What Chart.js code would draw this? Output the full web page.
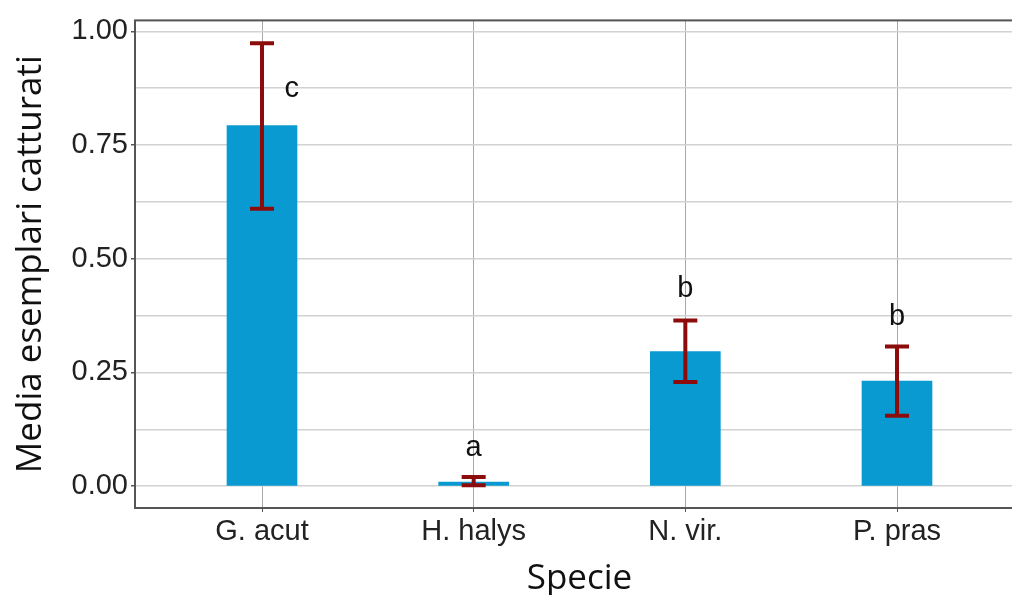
<!DOCTYPE html>
<html>
<head>
<meta charset="utf-8">
<title>Media esemplari catturati</title>
<script src="https://cdn.jsdelivr.net/npm/chart.js@4/dist/chart.umd.min.js"></script>
<style>
  html, body { margin: 0; padding: 0; background: #fff; overflow: hidden; }
  #wrap { width: 1028px; height: 595px; }
</style>
</head>
<body>
<div id="wrap"><canvas id="myBarChart"></canvas></div>
<script>
// data
const species = ["G. acut", "H. halys", "N. vir.", "P. pras"];
const means = [0.793, 0.009, 0.296, 0.231];
const errLow = [0.610, 0.002, 0.229, 0.155];
const errHigh = [0.974, 0.020, 0.364, 0.307];
const letters = ["c", "a", "b", "b"];
const letterY = [0.874, 0.083, 0.434, 0.373];
const yTicks = [0, 0.25, 0.5, 0.75, 1];

// minor grid lines sit halfway between the labelled ones
const yGrid = [];
for (let i = 0; i < yTicks.length; i++) {
  yGrid.push(yTicks[i]);
  if (i < yTicks.length - 1) yGrid.push((yTicks[i] + yTicks[i + 1]) / 2);
}

const tickFont = { family: "'Liberation Sans', Arial, sans-serif", size: 29 };
const titleFont = { family: "'Open Sans', sans-serif", size: 35 };

// dark red error bars plus the significance letters
const errorBars = {
  id: "errorBars",
  afterDatasetsDraw(chart) {
    const { ctx, scales: { x, y } } = chart;
    ctx.save();
    ctx.strokeStyle = "#8c0c0c";
    ctx.lineWidth = 4;
    species.forEach((s, i) => {
      const cx = x.getPixelForValue(i);
      const top = y.getPixelForValue(errHigh[i]);
      const bot = y.getPixelForValue(errLow[i]);
      ctx.beginPath();
      ctx.moveTo(cx, top); ctx.lineTo(cx, bot);
      ctx.moveTo(cx - 12, top); ctx.lineTo(cx + 12, top);
      ctx.moveTo(cx - 12, bot); ctx.lineTo(cx + 12, bot);
      ctx.stroke();
    });
    ctx.fillStyle = "#111";
    ctx.font = "29px 'Liberation Sans', Arial, sans-serif";
    ctx.textAlign = "center";
    ctx.textBaseline = "middle";
    letters.forEach((l, i) => {
      // the "c" sits beside its tall error bar, not above it
      const dx = i === 0 ? 0.14 : 0;
      ctx.fillText(l, x.getPixelForValue(i + dx), y.getPixelForValue(letterY[i]));
    });
    ctx.restore();
  }
};

// panel outline
const panelBorder = {
  id: "panelBorder",
  afterDraw(chart) {
    const { ctx, chartArea: a } = chart;
    ctx.save();
    ctx.strokeStyle = "#555";
    ctx.lineWidth = 2;
    ctx.strokeRect(a.left, a.top, a.right - a.left, a.bottom - a.top);
    ctx.restore();
  }
};

const bar = document.getElementById("myBarChart");
new Chart(bar, {
  type: "bar",
  data: {
    datasets: [{
      data: means.map((m, i) => ({ x: i, y: m })),
      backgroundColor: "#0a9ad2",
      borderWidth: 0,
      barThickness: 70
    }]
  },
  options: {
    responsive: true,
    maintainAspectRatio: false,
    animation: false,
    layout: { padding: { top: 16, right: 4, left: 0, bottom: 0 } },
    plugins: { legend: { display: false }, tooltip: { enabled: false } },
    scales: {
      x: {
        type: "linear",
        offset: false,
        min: -0.6,
        max: 3.6,
        afterBuildTicks: (s) => { s.ticks = species.map((_, i) => ({ value: i })); },
        afterFit: (s) => { s.height = 87; },
        ticks: {
          callback: (v) => species[v],
          autoSkip: false,
          maxRotation: 0,
          padding: 3,
          color: "#222",
          font: tickFont
        },
        grid: { offset: false, color: "#a8a8a8", lineWidth: 1, tickLength: 4, tickColor: "#555" },
        border: { display: false },
        title: { display: true, text: "Specie", color: "#111", font: titleFont, padding: { top: 0, bottom: -5 } }
      },
      y: {
        min: -0.048,
        max: 1.024,
        afterBuildTicks: (s) => { s.ticks = yGrid.map((v) => ({ value: v })); },
        afterFit: (s) => { s.width = 135; },
        ticks: {
          callback: (v) => (yTicks.includes(v) ? v.toFixed(2) : ""),
          autoSkip: false,
          padding: 3,
          color: "#222",
          font: tickFont
        },
        grid: {
          color: "#d2d2d2",
          lineWidth: 1.5,
          tickLength: 4,
          tickColor: (c) => (c.tick && yTicks.includes(c.tick.value) ? "#555" : "rgba(0,0,0,0)")
        },
        border: { display: false },
        title: {
          display: true,
          text: "Media esemplari catturati",
          color: "#111",
          font: titleFont,
          padding: { top: 10, bottom: 0 }
        }
      }
    }
  },
  plugins: [errorBars, panelBorder]
});
</script>
</body>
</html>
